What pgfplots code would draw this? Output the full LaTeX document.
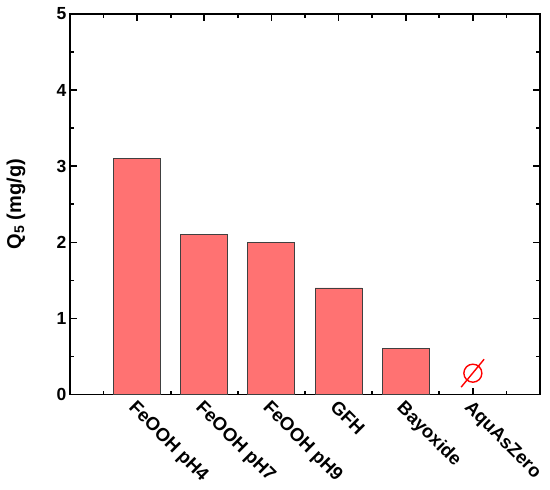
\documentclass[border=0pt]{standalone}
\usepackage{fontspec}
\setmainfont{Liberation Sans}
\usepackage{pgfplots}
\pgfplotsset{compat=1.18}
\definecolor{barred}{RGB}{255,114,114}
\pgfdeclareplotmark{nullset}{%
  \pgfpathcircle{\pgfpoint{0pt}{0pt}}{\pgfplotmarksize}%
  \pgfpathmoveto{\pgfpoint{-1.3\pgfplotmarksize}{-1.55\pgfplotmarksize}}%
  \pgfpathlineto{\pgfpoint{1.25\pgfplotmarksize}{1.55\pgfplotmarksize}}%
  \pgfusepathqstroke}
\begin{document}
\begin{tikzpicture}
\begin{axis}[
 name=ax,
 scale only axis,
 width=470pt, height=380.5pt,
 xmin=0, xmax=7, ymin=0, ymax=5,
 xtick={1,...,6},
 xticklabels={FeOOH pH4, FeOOH pH7, FeOOH pH9, GFH, Bayoxide, AquAsZero},
 minor xtick={0.5,1.5,...,6.5},
 ytick={0,...,5},
 minor ytick={0.5,1.5,...,4.5},
 tick align=inside,
 major tick length=7pt,
 minor tick length=4pt,
 every tick/.style={black, line width=1.6pt},
 axis line style={line width=1.8pt},
 /pgf/number format/assume math mode=true,
 ticklabel style={font=\fontsize{17.5}{20}\selectfont\bfseries},
 xticklabel style={rotate=-45, anchor=north west, font=\fontsize{18.5}{20}\selectfont\bfseries},
 ylabel={Q\textsubscript{5} (mg/g)},
 ylabel style={font=\fontsize{20}{22}\selectfont\bfseries, at={(axis description cs:-0.115,0.5)}, anchor=center},
]
\addplot[ybar, bar width=0.7, fill=barred, draw=black!75, line width=0.9pt] coordinates {(1,3.1) (2,2.1) (3,2.0) (4,1.4) (5,0.6)};
\addplot[only marks, mark=nullset, mark size=9pt, red, line width=1.4pt] coordinates {(6,0.28)};
\end{axis}
\pgfresetboundingbox
\path[use as bounding box] (ax.south west) ++(-70pt,-94.5pt) rectangle ([shift={(10pt,14pt)}]ax.north east);
\end{tikzpicture}
\end{document}
